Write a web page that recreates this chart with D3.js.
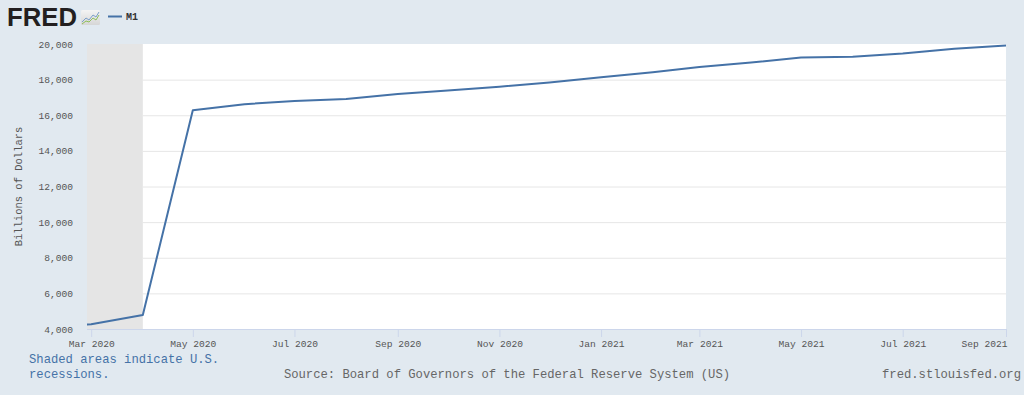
<!DOCTYPE html>
<html>
<head>
<meta charset="utf-8">
<script src="https://d3js.org/d3.v7.min.js"></script>
<style>
  body {margin: 0; background: #e1e9f0;}
  svg text {font-family: "Liberation Mono", "DejaVu Sans Mono", monospace;}
</style>
</head>
<body>
<svg id="chart" width="1024" height="395"></svg>
<script>
// M1, billions of dollars, monthly
var months = ["2020-02","2020-03","2020-04","2020-05","2020-06","2020-07","2020-08","2020-09","2020-10",
              "2020-11","2020-12","2021-01","2021-02","2021-03","2021-04","2021-05","2021-06","2021-07",
              "2021-08","2021-09"];
var m1 = [4006, 4270, 4790, 16280, 16620, 16800, 16910, 17190, 17390,
          17600, 17840, 18130, 18410, 18710, 18960, 19240, 19290, 19460,
          19730, 19910];
var yTicks = [4000, 6000, 8000, 10000, 12000, 14000, 16000, 18000, 20000];
var xTickLabels = ["2020-03","2020-05","2020-07","2020-09","2020-11","2021-01","2021-03","2021-05","2021-07","2021-09"];
var recession = ["2020-02-01", "2020-04-01"];

var parse = d3.timeParse("%Y-%m");
var data = months.map(function(m, i) { return {date: parse(m), value: m1[i]}; });

var pLeft = 87, pRight = 1006, pTop = 44, pBottom = 329;

var svg = d3.select("#chart");

var x = d3.scaleTime()
  .domain([new Date(2020, 1, 27, 12), new Date(2021, 8, 1)])
  .range([pLeft, pRight]);
var y = d3.scaleLinear()
  .domain([4000, 20000])
  .range([pBottom, pTop]);

// plot background
svg.append("rect")
  .attr("x", pLeft).attr("y", pTop)
  .attr("width", pRight - pLeft).attr("height", pBottom - pTop)
  .attr("fill", "#ffffff");

svg.append("clipPath").attr("id", "plot")
  .append("rect")
  .attr("x", pLeft).attr("y", pTop)
  .attr("width", pRight - pLeft).attr("height", pBottom - pTop);

// recession shading
var r0 = d3.timeParse("%Y-%m-%d")(recession[0]), r1 = d3.timeParse("%Y-%m-%d")(recession[1]);
svg.append("rect")
  .attr("clip-path", "url(#plot)")
  .attr("x", x(r0)).attr("y", pTop)
  .attr("width", x(r1) - x(r0)).attr("height", pBottom - pTop)
  .attr("fill", "#e5e5e5");

// grid lines
svg.append("g").selectAll("line")
  .data(yTicks.slice(1, -1))
  .enter().append("line")
  .attr("x1", x(r1)).attr("x2", pRight)
  .attr("y1", function(d) { return y(d) + 0.5; })
  .attr("y2", function(d) { return y(d) + 0.5; })
  .attr("stroke", "#e6e6e6").attr("stroke-width", 1);

// y axis labels
svg.append("g").selectAll("text")
  .data(yTicks)
  .enter().append("text")
  .attr("x", 73)
  .attr("y", function(d) { return y(d) + 3.5; })
  .attr("text-anchor", "end")
  .attr("font-size", "9.6px")
  .attr("fill", "#555")
  .text(function(d) { return d3.format(",")(d); });

svg.append("text")
  .attr("transform", "translate(22," + ((pTop + pBottom) / 2) + ") rotate(-90)")
  .attr("text-anchor", "middle")
  .attr("font-size", "10.5px")
  .attr("fill", "#555")
  .text("Billions of Dollars");

// x axis
var xAxis = d3.axisBottom(x)
  .tickValues(xTickLabels.map(parse))
  .tickSize(8)
  .tickFormat(d3.timeFormat("%b %Y"));
var gx = svg.append("g")
  .attr("transform", "translate(0," + pBottom + ")")
  .call(xAxis);
gx.select(".domain").attr("stroke", "#ccd6eb").attr("d", "M" + pLeft + ",0.5H" + pRight);
gx.selectAll(".tick line").attr("stroke", "#ccd6eb");
gx.selectAll(".tick text")
  .attr("font-family", "Liberation Mono, monospace")
  .attr("font-size", "9.6px")
  .attr("fill", "#555")
  .attr("y", 11);
gx.selectAll(".tick:last-of-type text").attr("text-anchor", "end").attr("x", 1);

// series line
var line = d3.line()
  .x(function(d) { return x(d.date); })
  .y(function(d) { return y(d.value); });
svg.append("path")
  .datum(data)
  .attr("clip-path", "url(#plot)")
  .attr("d", line)
  .attr("fill", "none")
  .attr("stroke", "#4572a7")
  .attr("stroke-width", 2)
  .attr("stroke-linejoin", "round");

// FRED logo
svg.append("text")
  .attr("x", 7).attr("y", 26)
  .style("font-family", "Liberation Sans, Arial, sans-serif")
  .attr("font-weight", "bold")
  .attr("font-size", "25px")
  .attr("textLength", 70)
  .attr("lengthAdjust", "spacingAndGlyphs")
  .attr("fill", "#231f20")
  .text("FRED");
var icon = svg.append("g").attr("transform", "translate(81,10)");
var grad = svg.append("defs").append("linearGradient").attr("id", "ig")
  .attr("x1", 0).attr("y1", 0).attr("x2", 0).attr("y2", 1);
grad.append("stop").attr("offset", 0).attr("stop-color", "#f4f4f4");
grad.append("stop").attr("offset", 1).attr("stop-color", "#d6d6d6");
icon.append("rect").attr("width", 19).attr("height", 15).attr("rx", 1.5).attr("fill", "url(#ig)");
icon.append("path").attr("d", "M1,12 L5,8 L8,10 L12,5 L15,7 L18,2")
  .attr("fill", "none").attr("stroke", "#7b9fc9").attr("stroke-width", 1);
icon.append("path").attr("d", "M1,14 L5,11 L8,12 L12,8 L15,10 L18,5")
  .attr("fill", "none").attr("stroke", "#8fbf5a").attr("stroke-width", 1);

// legend
svg.append("line")
  .attr("x1", 108).attr("x2", 122).attr("y1", 16.5).attr("y2", 16.5)
  .attr("stroke", "#4572a7").attr("stroke-width", 2);
svg.append("text")
  .attr("x", 126).attr("y", 20)
  .attr("font-size", "10px")
  .attr("font-weight", "bold")
  .attr("fill", "#333")
  .text("M1");

// notes
var note = svg.append("text")
  .attr("font-size", "12.2px")
  .attr("fill", "#4572a7");
note.append("tspan").attr("x", 29).attr("y", 363).text("Shaded areas indicate U.S.");
note.append("tspan").attr("x", 29).attr("y", 378).text("recessions.");

svg.append("text")
  .attr("x", 507).attr("y", 378)
  .attr("text-anchor", "middle")
  .attr("font-size", "12.2px")
  .attr("fill", "#666")
  .text("Source: Board of Governors of the Federal Reserve System (US)");

svg.append("text")
  .attr("x", 1021).attr("y", 378)
  .attr("text-anchor", "end")
  .attr("font-size", "12.2px")
  .attr("fill", "#666")
  .text("fred.stlouisfed.org");
</script>
</body>
</html>
